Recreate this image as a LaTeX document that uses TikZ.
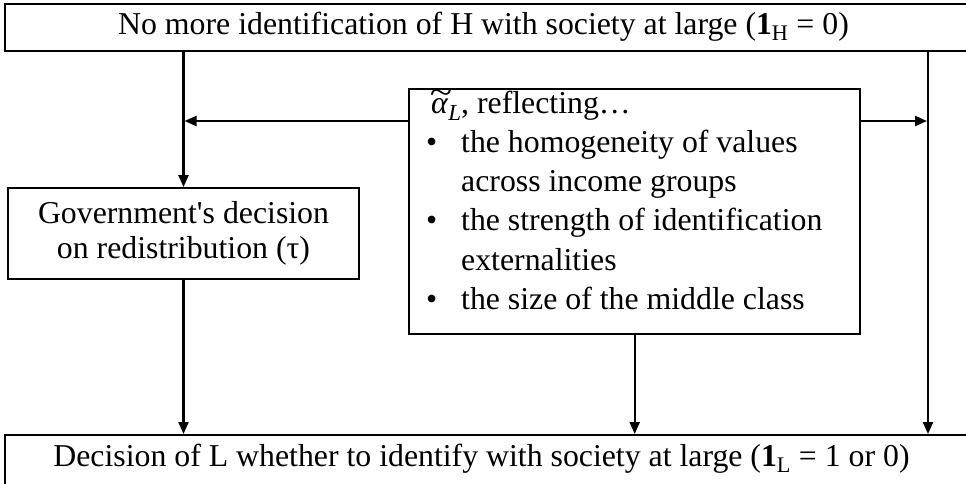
\documentclass[tikz,border=0pt]{standalone}
\usepackage{fontspec}
\setmainfont{Liberation Serif}
\usetikzlibrary{arrows.meta}
\tikzset{
  box/.style={draw, line width=1.8pt, inner sep=0pt},
  conn/.style={line width=2.2pt, -{Triangle[length=12pt,width=10pt]}},
  txt/.style={font=\fontsize{31.8}{39.3}\selectfont, inner sep=0pt}
}
\newcommand{\alphatilde}{\textit{α}\llap{\raisebox{0.3em}{\makebox[0.5em][c]{\scalebox{1.3}[1.05]{\textit{\~{}}}}}}}
\begin{document}
\begin{tikzpicture}[x=1pt, y=-1pt]
\useasboundingbox (0,0) rectangle (966,483);
% boxes
\node[box, minimum width=964pt, minimum height=47pt, anchor=north west] (top) at (4,3) {};
\node[txt] (toptxt) at (483.5,27) {No more identification of H with society at large (\textbf{1}\textsubscript{H} = 0)};
\node[box, minimum width=964pt, minimum height=60pt, anchor=north west] (bot) at (4,434) {};
\node[txt] (bottxt) at (481.5,459) {Decision of L whether to identify with society at large (\textbf{1}\textsubscript{L} = 1 or 0)};
\node[box, minimum width=351pt, minimum height=91pt, align=center,
      font=\fontsize{31.8}{35}\selectfont] (gov) at (183.5,233.5)
      {Government\textquotesingle s decision\\on redistribution (τ)};
\node[box, line width=2.4pt, minimum width=451pt, minimum height=245pt, anchor=north west] (alpha) at (408,88) {};
\node[txt, anchor=base west, align=left] (alphatxt) at (426,309.5)
 {\hspace*{5pt}\alphatilde\raisebox{-0.22em}{\fontsize{23}{23}\selectfont\textit{L}}, reflecting…\\
  \makebox[35pt][l]{\textbullet}the homogeneity of values\\
  \hspace*{35pt}across income groups\\
  \makebox[35pt][l]{\textbullet}the strength of identification\\
  \hspace*{35pt}externalities\\
  \makebox[35pt][l]{\textbullet}the size of the middle class};
% helper coordinates
\coordinate (rx) at (928,0);
\coordinate (ay) at (0,121);
% connectors
\draw[conn] (top.south -| gov.north) -- (gov.north);
\draw[conn] (gov.south) -- (gov.south |- bot.north);
\draw[conn] (alpha.south) -- (alpha.south |- bot.north);
\draw[conn] (top.south -| rx) -- (bot.north -| rx);
\draw[conn, shorten >=1pt] (alpha.west |- ay) -- (gov.north |- ay);
\draw[conn, shorten >=1pt] (alpha.east |- ay) -- (rx |- ay);
\end{tikzpicture}
\end{document}
